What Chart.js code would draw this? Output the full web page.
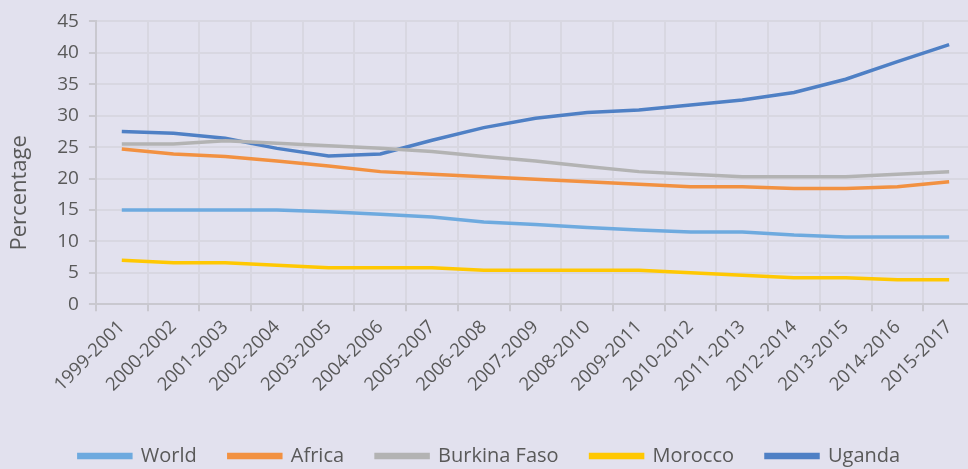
<!DOCTYPE html>
<html>
<head>
<meta charset="utf-8">
<script src="https://cdn.jsdelivr.net/npm/chart.js@4/dist/chart.umd.min.js"></script>
<style>
  html, body { margin:0; padding:0; background:#e2e1ee; overflow:hidden; width:968px; height:469px; }
  #c { display:block; }
</style>
</head>
<body>
<canvas id="c" width="975" height="478"></canvas>
<script>
// three-year periods on the x axis
const periods = ['1999-2001','2000-2002','2001-2003','2002-2004','2003-2005','2004-2006','2005-2007','2006-2008',
  '2007-2009','2008-2010','2009-2011','2010-2012','2011-2013','2012-2014','2013-2015','2014-2016','2015-2017'];

// prevalence (%)
const world       = [15.0,15.0,15.0,15.0,14.7,14.3,13.9,13.1,12.7,12.2,11.8,11.5,11.5,11.0,10.7,10.7,10.7];
const africa      = [24.7,23.9,23.5,22.8,22.0,21.1,20.7,20.3,19.9,19.5,19.1,18.7,18.7,18.4,18.4,18.7,19.5];
const burkinaFaso = [25.5,25.5,26.0,25.6,25.2,24.8,24.3,23.5,22.8,21.9,21.1,20.7,20.3,20.3,20.3,20.7,21.1];
const morocco     = [7.0,6.6,6.6,6.2,5.8,5.8,5.8,5.4,5.4,5.4,5.4,5.0,4.6,4.2,4.2,3.9,3.9];
const uganda      = [27.5,27.2,26.4,24.8,23.6,23.9,26.1,28.1,29.6,30.5,30.9,31.7,32.5,33.7,35.8,38.6,41.3];

const yTicks = [0,5,10,15,20,25,30,35,40,45];

const FONT = '"Open Sans", sans-serif';
const TXT = '#595959';

function line(label, data, color){
  return { label, data, borderColor: color, backgroundColor: color,
    borderWidth: 3.5, pointRadius: 0, tension: 0, fill: false };
}

// y title sits a bit below the middle of the axis in the original
const yTitle = {
  id: 'yTitle',
  afterDraw(chart){
    const { ctx, chartArea } = chart;
    ctx.save();
    ctx.translate(20, (chartArea.top + chartArea.bottom) / 2 + 30);
    ctx.rotate(-Math.PI / 2);
    ctx.textAlign = 'center';
    ctx.textBaseline = 'middle';
    ctx.font = '22px ' + FONT;
    ctx.fillStyle = TXT;
    ctx.fillText('Percentage', 0, 0);
    ctx.restore();
  }
};

new Chart(document.getElementById('c').getContext('2d'), {
  type: 'line',
  data: {
    labels: periods,
    datasets: [
      line('World', world, '#6eaadf'),
      line('Africa', africa, '#f29141'),
      line('Burkina Faso', burkinaFaso, '#b3b3b3'),
      line('Morocco', morocco, '#ffc802'),
      line('Uganda', uganda, '#4f80c5')
    ]
  },
  plugins: [yTitle],
  options: {
    responsive: false,
    animation: false,
    layout: { padding: { top: 1, left: 4, right: 0, bottom: 2 } },
    plugins: {
      tooltip: { enabled: false },
      legend: {
        position: 'bottom',
        labels: {
          font: { family: FONT, size: 20 }, color: TXT,
          boxWidth: 52, boxHeight: 3, padding: 32
        }
      }
    },
    scales: {
      x: {
        offset: true,
        afterFit: s => { s.height += 13; },   // room between labels and legend
        grid: { offset: true, color: '#d8d7e1', lineWidth: 2, tickLength: 7, tickColor: '#c9c8cf' },
        border: { color: '#c9c8cf', width: 2 },
        ticks: { font: { family: FONT, size: 18.5 }, color: TXT, minRotation: 45, maxRotation: 45, padding: 5 }
      },
      y: {
        min: 0, max: 45,
        afterBuildTicks: s => { s.ticks = yTicks.map(v => ({ value: v })); },
        grid: { color: '#d8d7e1', lineWidth: 2, tickLength: 7, tickColor: '#c9c8cf' },
        border: { color: '#c9c8cf', width: 2 },
        ticks: { font: { family: FONT, size: 19 }, color: TXT, padding: 10 },
        // space kept for the title drawn by the plugin above
        title: { display: true, text: 'Percentage', font: { family: FONT, size: 21 }, color: 'rgba(0,0,0,0)', padding: { top: 4, bottom: 14 } }
      }
    }
  }
});
</script>
</body>
</html>
